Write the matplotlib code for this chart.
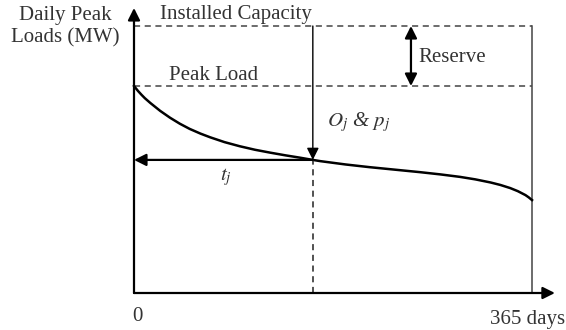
import matplotlib.pyplot as plt

# Load duration curve (load as % of peak)
days = [0, 3.7, 7, 10, 15, 24, 33, 42, 51, 61, 70, 83, 97, 111, 125, 139,
        152, 164, 171, 194, 216, 239, 262, 281, 299, 313, 327, 336, 345, 352,
        359, 362, 365]
load = [100, 97.6, 95.7, 94.1, 91.8, 88.0, 84.7, 81.8, 79.3, 77.0, 75.2,
        72.9, 70.9, 69.2, 67.8, 66.5, 65.4, 64.3, 63.7, 62.1, 60.8, 59.6,
        58.4, 57.3, 56.1, 54.9, 53.4, 52.2, 50.7, 49.2, 47.3, 46.2, 44.9]

peak_load = 100
installed = 129
day_j = 164
load_j = 64.3

plt.rcParams['font.family'] = ['Liberation Serif', 'DejaVu Serif']

fig = plt.figure(figsize=(5.66, 3.30), dpi=100)
ax = fig.add_axes([134 / 566, 37 / 330, 398 / 566, 267 / 330])
ax.set_xlim(0, 365)
ax.set_ylim(0, installed)
ax.axis('off')

arrow = dict(arrowstyle='-|>', color='black', lw=1.6, mutation_scale=18,
             shrinkA=0, shrinkB=0)

# axes with arrow heads
ax.annotate('', xy=(0, 137.7), xytext=(0, 0), arrowprops=arrow,
            annotation_clip=False)
ax.annotate('', xy=(386, 0), xytext=(0, 0), arrowprops=arrow,
            annotation_clip=False)

# capacity and peak load levels
ax.plot([0, 365], [installed, installed], ls=(0, (4, 3)), color='#444444',
        lw=1.1, clip_on=False)
ax.plot([0, 365], [peak_load, peak_load], ls=(0, (4, 3)), color='#444444',
        lw=1.1, clip_on=False)
ax.plot([365, 365], [0, installed], color='#444444', lw=1.1, clip_on=False)

# load curve
ax.plot(days, load, color='black', lw=1.8, clip_on=False,
        solid_joinstyle='round')

# O_j & p_j arrow, t_j arrow and dashed drop line
ax.annotate('', xy=(day_j, load_j), xytext=(day_j, installed),
            arrowprops=dict(arrow, lw=1.0), annotation_clip=False)
ax.annotate('', xy=(0, load_j), xytext=(day_j, load_j),
            arrowprops=dict(arrow, lw=1.6), annotation_clip=False)
ax.plot([day_j, day_j], [0, load_j], ls=(0, (4, 3)), color='#222222', lw=1.1)

# reserve double arrow
ax.annotate('', xy=(254, peak_load), xytext=(254, installed),
            arrowprops=dict(arrowstyle='<|-|>', color='black', lw=1.6,
                            mutation_scale=18, shrinkA=0, shrinkB=0),
            annotation_clip=False)

fs = 15
tc = '#333333'
ax.text(-63, 128.5, 'Daily Peak\nLoads (MW)', fontsize=fs, ha='center',
        va='center', linespacing=1.25, color=tc)
ax.text(24, 134.5, 'Installed Capacity', fontsize=fs, ha='left',
        va='center', color=tc)
ax.text(32, 105.3, 'Peak Load', fontsize=fs, ha='left', va='center', color=tc)
ax.text(261, 114, 'Reserve', fontsize=fs, ha='left', va='center', color=tc)
ax.text(177, 82.6, r'$O_j$ & $p_j$', fontsize=fs, ha='left', va='center',
        color=tc, style='italic', math_fontfamily='stix')
ax.text(79, 56, r'$t_j$', fontsize=fs, ha='left', va='center', color=tc,
        math_fontfamily='stix')
ax.text(3, -11.5, '0', fontsize=fs, ha='center', va='center', color=tc)
ax.text(395, -13, '365 days', fontsize=fs, ha='right', va='center', color=tc)

fig.savefig('out.png', dpi=100)
